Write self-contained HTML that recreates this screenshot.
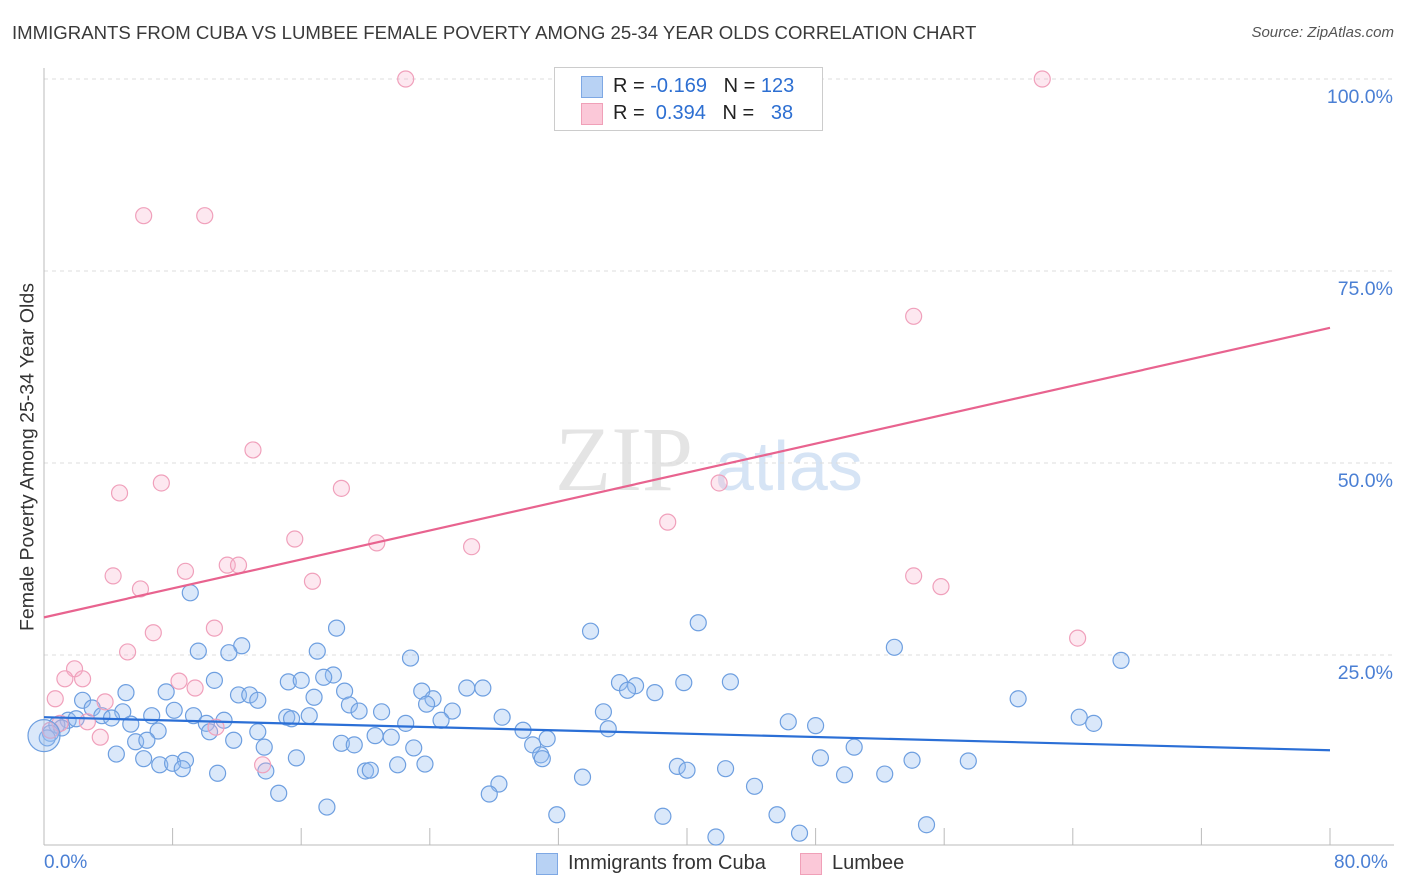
<!DOCTYPE html>
<html><head><meta charset="utf-8">
<style>
body{margin:0;background:#fff;font-family:"Liberation Sans",sans-serif;}
#wrap{position:relative;width:1406px;height:892px;overflow:hidden;}
.t{position:absolute;white-space:nowrap;}
</style></head><body>
<div id="wrap">
<div class="t" style="left:12px;top:22px;font-size:18.6px;color:#3a3a3a;">IMMIGRANTS FROM CUBA VS LUMBEE FEMALE POVERTY AMONG 25-34 YEAR OLDS CORRELATION CHART</div>
<div class="t" style="right:12px;top:24px;font-size:15px;color:#555;font-style:italic;">Source: ZipAtlas.com</div>
<svg id="svg" width="1406" height="892" style="position:absolute;left:0;top:0"></svg>
<div class="t" style="left:554px;top:67px;width:267px;height:62px;border:1px solid #ccc;background:#fff;">
 <div style="position:absolute;left:26px;top:8px;width:20px;height:20px;background:#b8d2f4;border:1px solid #7ea8e4;"></div>
 <div style="position:absolute;left:26px;top:35px;width:20px;height:20px;background:#fbc8d8;border:1px solid #f0a0b8;"></div>
 <div class="t" style="left:58px;top:7px;font-size:20px;color:#222;">R = <span style="color:#2d6fd2">-0.169</span>&nbsp;&nbsp;&nbsp;N = <span style="color:#2d6fd2">123</span></div>
 <div class="t" style="left:58px;top:34px;font-size:20px;color:#222;">R = &nbsp;<span style="color:#2d6fd2">0.394</span>&nbsp;&nbsp;&nbsp;N = &nbsp;&nbsp;<span style="color:#2d6fd2">38</span></div>
</div>
<div class="t" style="left:28px;top:457px;transform:translate(-50%,-50%) rotate(-90deg);transform-origin:center;font-size:19.5px;color:#333;">Female Poverty Among 25-34 Year Olds</div>
<div class="t" style="left:44px;top:852px;font-size:19px;color:#4a7fd4;">0.0%</div>
<div class="t" style="left:1334px;top:852px;font-size:19px;color:#4a7fd4;">80.0%</div>
<div class="t" style="left:536px;top:853px;width:20px;height:20px;background:#b8d2f4;border:1px solid #7ea8e4;"></div>
<div class="t" style="left:568px;top:852px;font-size:20px;color:#333;">Immigrants from Cuba</div>
<div class="t" style="left:800px;top:853px;width:20px;height:20px;background:#fbc8d8;border:1px solid #f0a0b8;"></div>
<div class="t" style="left:832px;top:852px;font-size:20px;color:#333;">Lumbee</div>
</div>
<script>
const yTicks=[25,50,75,100];
const yTickLabels=["25.0%","50.0%","75.0%","100.0%"];
const cubaX=[9.1,18.2,34.0,40.7,12.3,9.6,11.5,17.0,22.8,52.9,67.0,18.0,17.4,15.2,16.0,10.6,35.8,36.8,39.8,42.7,26.3,27.3,36.3,38.0,7.6,5.1,12.1,12.8,18.7,23.5,2.4,13.3,16.8,24.2,19.0,23.8,60.6,3.0,8.1,19.6,25.4,21.0,34.8,4.9,6.7,9.3,15.1,16.5,28.5,11.2,3.6,1.5,2.0,0.8,4.2,10.1,15.4,22.5,24.7,64.4,65.3,46.3,48.0,5.4,7.1,10.3,13.3,29.8,35.1,1.1,0.4,0.2,11.8,18.5,20.6,21.6,31.3,5.7,6.4,13.7,19.3,23.0,30.4,50.4,4.5,6.2,30.9,31.0,15.7,8.8,22.0,23.7,48.3,54.0,57.5,7.2,8.0,8.6,20.0,20.3,13.8,10.8,33.5,39.4,40.0,42.4,49.8,52.3,44.2,28.3,27.7,14.6,17.6,31.9,38.5,45.6,54.9,41.8,47.0];
const cubaY=[33.1,28.5,28.1,29.2,26.2,25.5,25.3,25.5,24.6,26.0,24.3,22.4,22.1,21.5,21.7,21.7,21.4,21.0,21.4,21.5,20.7,20.7,20.4,20.1,20.2,20.1,19.8,19.8,20.3,20.3,19.1,19.1,19.5,19.3,18.5,18.6,19.3,18.1,17.8,17.7,17.7,17.6,17.6,17.6,17.1,17.1,16.9,17.1,16.9,16.5,17.1,16.5,16.7,15.9,16.8,16.1,16.7,16.1,16.5,16.9,16.1,16.3,15.8,16.0,15.1,15.0,15.0,15.2,15.4,15.5,14.8,14.2,13.9,13.5,14.5,14.3,14.1,13.7,13.9,13.0,13.3,12.9,13.3,13.0,12.1,11.5,12.0,11.5,11.6,11.3,10.7,10.8,11.6,11.3,11.2,10.7,10.9,10.2,9.9,10.0,9.9,9.6,9.1,10.5,10.0,10.2,9.4,9.5,7.9,8.2,6.9,7.0,5.2,4.2,4.0,4.2,2.9,1.3,1.8];
const lumbeeX=[22.5,62.1,6.2,10.0,54.1,13.0,4.7,7.3,18.5,42.0,38.8,26.6,15.6,20.7,4.3,8.8,11.4,12.1,6.0,16.7,54.1,55.8,6.8,10.6,5.2,64.3,1.9,2.4,1.3,8.4,9.4,0.7,3.8,1.0,2.7,10.7,3.5,13.6,0.4];
const lumbeeY=[100,100,82.2,82.2,69.1,51.7,46.1,47.4,46.7,47.4,42.3,39.1,40.1,39.6,35.3,35.9,36.7,36.7,33.6,34.6,35.3,33.9,27.9,28.5,25.4,27.2,23.2,21.9,21.9,21.6,20.7,19.3,18.9,16.1,16.3,15.6,14.3,10.7,15.2];
const cubaTrend=[16.9,12.6];
const lumbeeTrend=[29.9,67.6];
const xDomain=[0,80];

const X0=44,X1=1330,Y0=847,Y100=79;
const sx=v=>X0+(v-xDomain[0])/(xDomain[1]-xDomain[0])*(X1-X0);
const sy=v=>Y0-(v/100)*(Y0-Y100);
const svg=document.getElementById('svg');
const NS='http://www.w3.org/2000/svg';
function mk(tag,attrs){const e=document.createElementNS(NS,tag);for(const k in attrs)e.setAttribute(k,attrs[k]);svg.appendChild(e);return e;}

let wm=mk('text',{x:555,y:490,'font-size':92,fill:'#e4e4e4','font-family':'Liberation Serif, serif'});wm.textContent='ZIP';


let wm2=mk('text',{x:715,y:490,'font-size':70,fill:'#d6e4f5','font-family':'Liberation Sans, sans-serif'});wm2.textContent='atlas';



yTicks.forEach((t,i)=>{
  const g=mk('line',{x1:X0,x2:1394,y1:sy(t),y2:sy(t),stroke:'#dcdcdc','stroke-dasharray':'4,4'});
  
  
  const tx=mk('text',{x:1393,y:sy(t)+24,'text-anchor':'end','font-size':19.5,fill:'#4a7fd4','font-family':'Liberation Sans, sans-serif'});
  tx.textContent=yTickLabels[i];
  
  
});
let ax=mk('line',{x1:X0,x2:X0,y1:68,y2:845,stroke:'#bbb'});


let bx=mk('line',{x1:X0,x2:1394,y1:845,y2:845,stroke:'#bbb'});


for(let v=0;v<=80;v+=8){
  const tk=mk('line',{x1:sx(v),x2:sx(v),y1:828,y2:845,stroke:'#bbb'});
  
  
}
cubaX.forEach((v,i)=>{
  const c=mk('circle',{cx:sx(v),cy:sy(cubaY[i]),r:8,fill:'rgba(150,190,240,0.35)',stroke:'#6e9fe0','stroke-width':1.2});
  
  
});
lumbeeX.forEach((v,i)=>{
  const c=mk('circle',{cx:sx(v),cy:sy(lumbeeY[i]),r:8,fill:'rgba(248,180,205,0.3)',stroke:'#f0a0bb','stroke-width':1.2});
  
  
});
let big=mk('circle',{cx:sx(0),cy:sy(14.5),r:16,fill:'rgba(150,190,240,0.35)',stroke:'#6e9fe0','stroke-width':1.2});


let tl1=mk('line',{x1:sx(0),x2:sx(80),y1:sy(cubaTrend[0]),y2:sy(cubaTrend[1]),stroke:'#2b6fd6','stroke-width':2.2});


let tl2=mk('line',{x1:sx(0),x2:sx(80),y1:sy(lumbeeTrend[0]),y2:sy(lumbeeTrend[1]),stroke:'#e8638f','stroke-width':2.2});


</script>
</body></html>
